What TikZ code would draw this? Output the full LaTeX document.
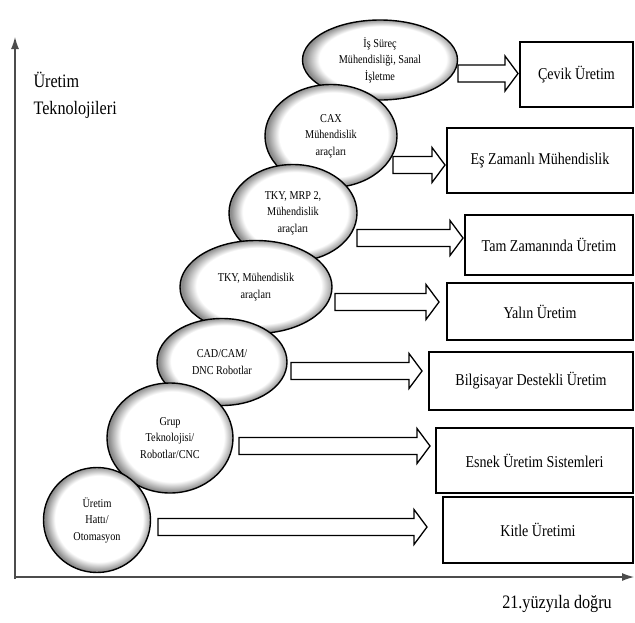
\documentclass[tikz,border=0pt]{standalone}
\usepackage{fontspec}
\setmainfont{Liberation Serif}[FakeStretch=0.85]
\usetikzlibrary{shapes.geometric,arrows.meta,calc}

\pgfdeclareradialshading{ellglow}{\pgfpoint{1.5bp}{1bp}}{color(0bp)=(white); color(20.5bp)=(white); color(25bp)=(black!45); color(50bp)=(black!45)}

\tikzset{
  ell/.style={ellipse, draw, line width=1.4pt, shade, shading=ellglow, inner sep=0pt,
    align=center, font=\fontsize{12}{16.5}\selectfont},
  outbox/.style={rectangle, draw, line width=1.8pt, fill=white, inner sep=0pt,
    font=\fontsize{16.5}{20}\selectfont},
  fatarrow/.style={draw, line width=1.3pt, fill=white, line join=miter},
  axis/.style={black!70, line width=1.1pt, -{Latex[length=12pt,width=8pt]}}
}

% outlined block arrow from #1 to tip #2
\newcommand{\blockarrow}[2]{%
  \draw[fatarrow] ($(#1)+(0,-8.5)$) -- ($(#2)+(-13,-8.5)$) -- ($(#2)+(-13,-17.5)$)
    -- (#2) -- ($(#2)+(-13,17.5)$) -- ($(#2)+(-13,8.5)$) -- ($(#1)+(0,8.5)$) -- cycle;}

\begin{document}
\begin{tikzpicture}[x=1pt,y=-1pt]
  \useasboundingbox (0,0) rectangle (635,622);

  % axes
  \coordinate (O) at (15,577);
  \coordinate (Ytop) at (15,37);
  \coordinate (Xend) at (634,577);
  \draw[axis] ($(O)+(0,2)$) -- (Ytop);
  \draw[axis] ($(O)+(-1,0)$) -- (Xend);
  \node[anchor=west, align=left, font=\fontsize{19}{27}\selectfont] (ylab) at (30,95) {Üretim\\Teknolojileri};
  \node[font=\fontsize{19}{23}\selectfont] (xlab) at (557,604) {21.yüzyıla doğru};

  % technologies, from the top down so lower ones lie on top
  \node[ell, minimum width=155, minimum height=80] (e7) at (380,60) {İş Süreç\\Mühendisliği, Sanal\\İşletme};
  \node[ell, minimum width=132, minimum height=103] (e6) at (331,136) {CAX\\Mühendislik\\araçları};
  \node[ell, minimum width=128, minimum height=97] (e5) at (293,213) {TKY, MRP 2,\\Mühendislik\\araçları};
  \node[ell, minimum width=152, minimum height=93] (e4) at (256,287) {TKY, Mühendislik\\araçları};
  \node[ell, minimum width=130, minimum height=87] (e3) at (222,362) {CAD/CAM/\\DNC Robotlar};
  \node[ell, minimum width=126, minimum height=110] (e2) at (170,438) {Grup\\Teknolojisi/\\Robotlar/CNC};
  \node[ell, minimum width=107, minimum height=105] (e1) at (97,520) {Üretim\\Hattı/\\Otomasyon};

  % production systems
  \node[outbox, minimum width=113, minimum height=65] (b7) at (576.5,74.5) {Çevik Üretim};
  \node[outbox, minimum width=186, minimum height=65] (b6) at (540,160.5) {Eş Zamanlı Mühendislik};
  \node[outbox, minimum width=168, minimum height=60] (b5) at (549,245) {Tam Zamanında Üretim};
  \node[outbox, minimum width=186, minimum height=57] (b4) at (540,311.5) {Yalın Üretim};
  \node[outbox, minimum width=204, minimum height=58] (b3) at (531,381) {Bilgisayar Destekli Üretim};
  \node[outbox, minimum width=197, minimum height=65] (b2) at (534.5,460.5) {Esnek Üretim Sistemleri};
  \node[outbox, minimum width=190, minimum height=66] (b1) at (538,530) {Kitle Üretimi};

  \coordinate (s7) at (458,73.5);  \coordinate (t7) at (518,73.5);
  \coordinate (s6) at (393,165);   \coordinate (t6) at (445,165);
  \coordinate (s5) at (357,238);   \coordinate (t5) at (463,238);
  \coordinate (s4) at (335,302);   \coordinate (t4) at (439,302);
  \coordinate (s3) at (291,371);   \coordinate (t3) at (422,371);
  \coordinate (s2) at (239,446);   \coordinate (t2) at (430,446);
  \coordinate (s1) at (158,527);   \coordinate (t1) at (427,527);

  \blockarrow{s7}{t7}
  \blockarrow{s6}{t6}
  \blockarrow{s5}{t5}
  \blockarrow{s4}{t4}
  \blockarrow{s3}{t3}
  \blockarrow{s2}{t2}
  \blockarrow{s1}{t1}

\end{tikzpicture}
\end{document}
